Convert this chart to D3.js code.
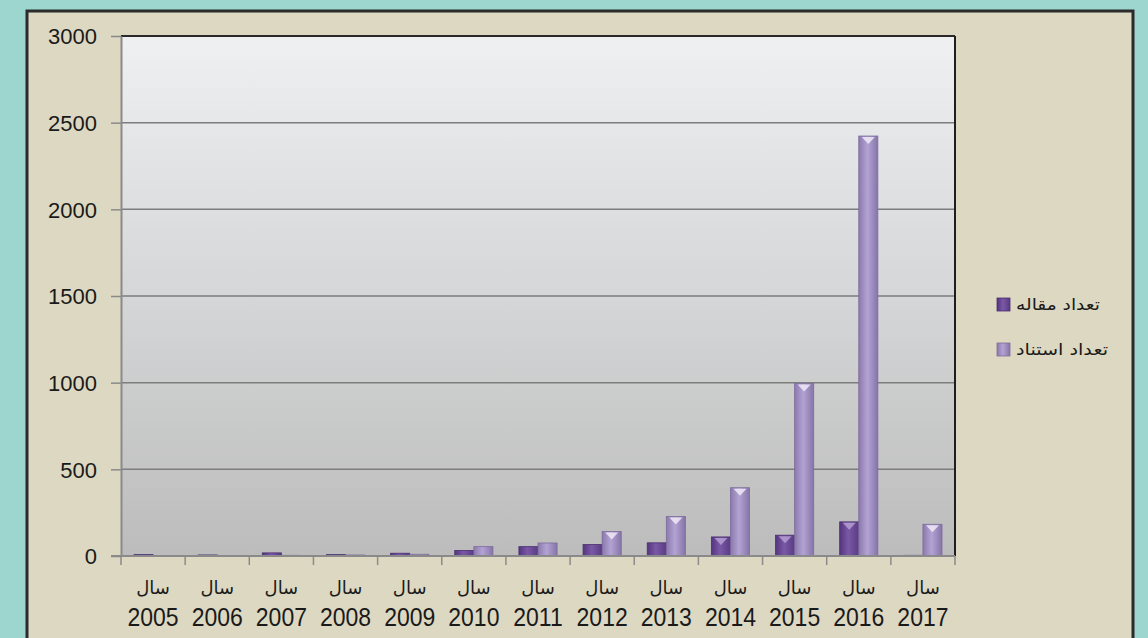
<!DOCTYPE html>
<html>
<head>
<meta charset="utf-8">
<script src="https://cdn.jsdelivr.net/npm/d3@7"></script>
<style>
  html, body { margin: 0; padding: 0; background: #9dd5cf; }
  svg { display: block; font-family: "Liberation Sans", "DejaVu Sans", sans-serif; }
</style>
</head>
<body>
<svg id="chart"></svg>
<script>
const years = ["2005","2006","2007","2008","2009","2010","2011","2012","2013","2014","2015","2016","2017"];
const articles = [8, 6, 18, 8, 16, 32, 54, 66, 76, 110, 120, 197, 4];
const citations = [0, 0, 4, 6, 10, 54, 75, 141, 228, 394, 995, 2423, 183];
const seriesNames = ["تعداد مقاله", "تعداد استناد"];
const yTicks = [0, 500, 1000, 1500, 2000, 2500, 3000];

const width = 1148, height = 638;
const plot = {left: 121, right: 955, top: 36, bottom: 556};

var svg = d3.select("#chart").attr("width", width).attr("height", height);
var defs = svg.append("defs");

// plot background gradient (light at top, grey at bottom)
var bgGrad = defs.append("linearGradient").attr("id", "plotBg")
    .attr("x1", 0).attr("y1", 0).attr("x2", 0).attr("y2", 1);
bgGrad.append("stop").attr("offset", "0%").attr("stop-color", "#eef0f2");
bgGrad.append("stop").attr("offset", "100%").attr("stop-color", "#bcbcbc");

// bar gradients, a bit lighter in the middle
const barColors = [
    ["#54357e", "#7a58a6", "#5a3b84"],
    ["#8b79ad", "#b3a3d3", "#8674a8"]
];
barColors.forEach(function(c, i) {
    var g = defs.append("linearGradient").attr("id", "bar" + i)
        .attr("x1", 0).attr("y1", 0).attr("x2", 1).attr("y2", 0);
    g.append("stop").attr("offset", "0%").attr("stop-color", c[0]);
    g.append("stop").attr("offset", "45%").attr("stop-color", c[1]);
    g.append("stop").attr("offset", "100%").attr("stop-color", c[2]);
});

// outer frame
svg.append("rect").attr("x", 27).attr("y", 11).attr("width", 1106).attr("height", 640)
    .attr("fill", "#ddd8c2").attr("stroke", "#2b2b2b").attr("stroke-width", 3);

var x0 = d3.scaleBand().domain(years).range([plot.left, plot.right])
    .paddingInner(0.405).paddingOuter(0.2025);
var x1 = d3.scaleBand().domain([0, 1]).range([0, x0.bandwidth()]);
var y = d3.scaleLinear().domain([0, 3000]).range([plot.bottom, plot.top]);

svg.append("rect").attr("x", plot.left).attr("y", plot.top)
    .attr("width", plot.right - plot.left).attr("height", plot.bottom - plot.top)
    .attr("fill", "url(#plotBg)");

// gridlines
svg.append("g").selectAll("line").data(yTicks.slice(1)).enter().append("line")
    .attr("x1", plot.left).attr("x2", plot.right)
    .attr("y1", d => y(d)).attr("y2", d => y(d))
    .attr("stroke", "#7d7d7d").attr("stroke-width", 1.5);

// plot border: dark top and right, grey left
svg.append("line").attr("x1", plot.left).attr("x2", plot.right)
    .attr("y1", plot.top).attr("y2", plot.top).attr("stroke", "#2a2a2a").attr("stroke-width", 2);
svg.append("line").attr("x1", plot.right).attr("x2", plot.right)
    .attr("y1", plot.top).attr("y2", plot.bottom).attr("stroke", "#1e1e1e").attr("stroke-width", 2);

// y axis
var yAxis = svg.append("g").attr("transform", "translate(" + plot.left + ",0)")
    .call(d3.axisLeft(y).tickValues(yTicks).tickFormat(d3.format("d"))
        .tickSize(10).tickPadding(14).tickSizeOuter(0));
yAxis.select(".domain").attr("stroke", "#8a8a8a").attr("stroke-width", 2);
yAxis.selectAll(".tick line").attr("stroke", "#8a8a8a").attr("stroke-width", 1.5);
yAxis.selectAll(".tick text").attr("font-size", 22).attr("fill", "#1a1a1a")
    .attr("font-family", "Liberation Sans, sans-serif").attr("dy", "0.35em");

// bars
var groups = svg.append("g").selectAll("g").data(years).enter().append("g")
    .attr("transform", d => "translate(" + x0(d) + ",0)");
var barData = (d, i) => [
    {s: 0, v: articles[i]},
    {s: 1, v: citations[i]}
];
groups.each(function(d, i) {
    var g = d3.select(this);
    var bars = barData(d, i).filter(b => b.v > 0);
    g.selectAll("rect").data(bars).enter().append("rect")
        .attr("x", b => x1(b.s))
        .attr("y", b => y(b.v))
        .attr("width", x1.bandwidth())
        .attr("height", b => y(0) - y(b.v))
        .attr("fill", b => "url(#bar" + b.s + ")")
        .attr("stroke", b => b.s === 0 ? "#4a2f70" : "#7d6c9c")
        .attr("stroke-width", 0.8);
    // little highlight triangle on top of the taller bars
    g.selectAll("path").data(bars.filter(b => y(0) - y(b.v) > 14)).enter().append("path")
        .attr("d", function(b) {
            var bx = x1(b.s), w = x1.bandwidth(), ty = y(b.v) + 1;
            return "M" + (bx + 3) + "," + ty + "L" + (bx + w - 3) + "," + ty +
                "L" + (bx + w / 2) + "," + (ty + 7) + "Z";
        })
        .attr("fill", b => b.s === 0 ? "#b9a3d6" : "#f4eef9")
        .attr("opacity", 0.8);
});

// x axis
var x0full = d3.scaleBand().domain(years).range([plot.left, plot.right]);
svg.append("line").attr("x1", plot.left - 10).attr("x2", plot.right)
    .attr("y1", plot.bottom).attr("y2", plot.bottom).attr("stroke", "#8a8a8a").attr("stroke-width", 2);
svg.append("g").selectAll("line").data(years.concat(["end"])).enter().append("line")
    .attr("x1", (d, i) => plot.left + i * x0full.step())
    .attr("x2", (d, i) => plot.left + i * x0full.step())
    .attr("y1", plot.bottom).attr("y2", plot.bottom + 9)
    .attr("stroke", "#8a8a8a").attr("stroke-width", 1.5);

var xlab = svg.append("g").selectAll("g").data(years).enter().append("g")
    .attr("transform", d => "translate(" + (x0full(d) + x0full.bandwidth() / 2) + ",0)");
xlab.append("text").attr("y", 594).attr("text-anchor", "middle")
    .attr("font-size", 18).attr("font-family", "DejaVu Sans, sans-serif")
    .attr("fill", "#1a1a1a").text("سال");
xlab.append("text").attr("text-anchor", "middle")
    .attr("transform", "translate(0,626) scale(1,1.15)")
    .attr("font-size", 23).attr("fill", "#1a1a1a").text(d => d);

// legend
var legend = svg.append("g").selectAll("g").data(seriesNames).enter().append("g")
    .attr("transform", (d, i) => "translate(997," + (298 + i * 45) + ")");
legend.append("rect").attr("width", 13).attr("height", 13)
    .attr("fill", (d, i) => "url(#bar" + i + ")")
    .attr("stroke", (d, i) => i === 0 ? "#4a2f70" : "#7d6c9c").attr("stroke-width", 0.8);
legend.append("text").attr("x", 19).attr("y", 12)
    .attr("font-size", 16).attr("font-family", "DejaVu Sans, sans-serif")
    .attr("textLength", (d, i) => i === 0 ? 84 : 92).attr("lengthAdjust", "spacingAndGlyphs")
    .attr("fill", "#1a1a1a").text(d => d);
</script>
</body>
</html>
